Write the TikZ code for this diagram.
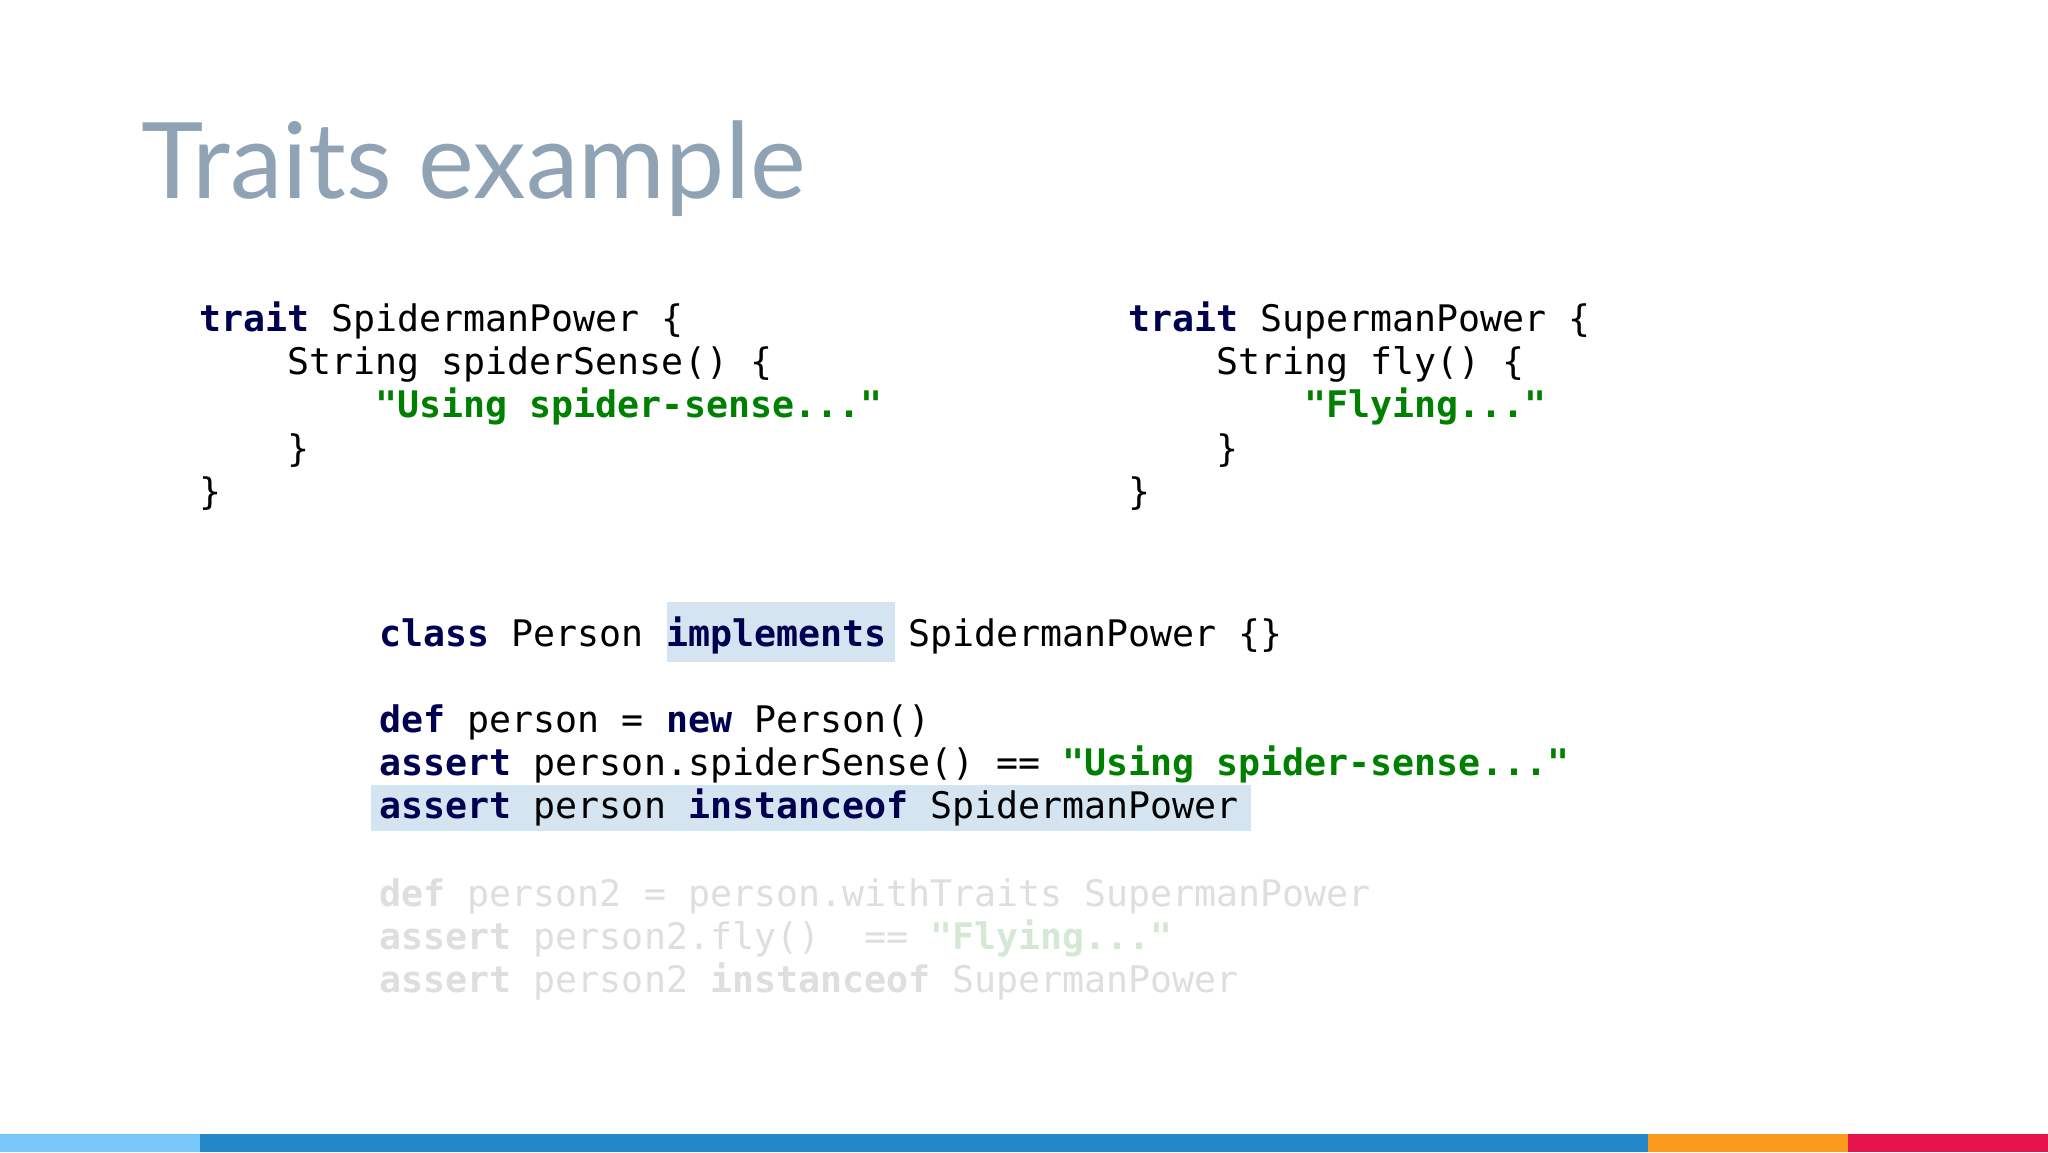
\documentclass[tikz,border=0pt]{standalone}
\usepackage{fontspec}
\setmainfont{Lato}
\setmonofont{DejaVu Sans Mono}
\definecolor{kw}{RGB}{0,0,80}
\definecolor{st}{RGB}{0,128,0}
\definecolor{ttl}{RGB}{143,163,181}
\definecolor{hl}{RGB}{212,229,241}
\definecolor{fd}{RGB}{222,222,222}
\definecolor{fdg}{RGB}{212,232,212}
\definecolor{b1}{RGB}{120,200,250}
\definecolor{b2}{RGB}{35,135,200}
\definecolor{b3}{RGB}{250,155,30}
\definecolor{b4}{RGB}{230,20,75}
\newcommand{\K}[1]{\textbf{\color{kw}#1}}
\newcommand{\Sg}[1]{\textbf{\color{st}#1}}
\newcommand{\FK}[1]{\textbf{#1}}
\tikzset{code/.style={anchor=base west,inner sep=0pt,font=\ttfamily\fontsize{7.97}{9}\selectfont,text=black},
faded/.style={code,text=fd}}
\begin{document}
\begin{tikzpicture}[x=1cm,y=1cm]
\useasboundingbox (0,0) rectangle (15.68,-8.82);
\fill[white] (0,0) rectangle (15.68,-8.82);
\node[anchor=base west,inner sep=0pt,text=ttl,font=\fontsize{23}{26}\selectfont] (title) at (1.08,-1.52) {Traits example};
% highlights
\fill[hl] (5.11,-4.61) rectangle (6.85,-5.07);
\fill[hl] (2.84,-6.01) rectangle (9.58,-6.36);
% left
\node[code] (l1) at (1.52,-2.54) {\K{trait} SpidermanPower \{};
\node[code] (l2) at (1.52,-2.87) {\phantom{xxxx}String spiderSense() \{};
\node[code] (l3) at (1.52,-3.20) {\phantom{xxxxxxxx}\Sg{"Using spider-sense..."}};
\node[code] (l4) at (1.52,-3.53) {\phantom{xxxx}\}};
\node[code] (l5) at (1.52,-3.86) {\}};
% right
\node[code] (r1) at (8.63,-2.54) {\K{trait} SupermanPower \{};
\node[code] (r2) at (8.63,-2.87) {\phantom{xxxx}String fly() \{};
\node[code] (r3) at (8.63,-3.20) {\phantom{xxxxxxxx}\Sg{"Flying..."}};
\node[code] (r4) at (8.63,-3.53) {\phantom{xxxx}\}};
\node[code] (r5) at (8.63,-3.86) {\}};
% middle
\node[code] (m1) at (2.90,-4.95) {\K{class} Person \K{implements} SpidermanPower \{\}};
\node[code] (m2) at (2.90,-5.61) {\K{def} person = \K{new} Person()};
\node[code] (m3) at (2.90,-5.94) {\K{assert} person.spiderSense() == \Sg{"Using spider-sense..."}};
\node[code] (m4) at (2.90,-6.27) {\K{assert} person \K{instanceof} SpidermanPower};
\node[faded] (f1) at (2.90,-6.94) {\FK{def} person2 = person.withTraits SupermanPower};
\node[faded] (f2) at (2.90,-7.27) {\FK{assert} person2.fly()\ \ == \textbf{\color{fdg}"Flying..."}};
\node[faded] (f3) at (2.90,-7.60) {\FK{assert} person2 \FK{instanceof} SupermanPower};
% bar
\fill[b1] (0,-8.68) rectangle (1.53,-8.82);
\fill[b2] (1.53,-8.68) rectangle (12.62,-8.82);
\fill[b3] (12.62,-8.68) rectangle (14.15,-8.82);
\fill[b4] (14.15,-8.68) rectangle (15.68,-8.82);
\end{tikzpicture}
\end{document}
